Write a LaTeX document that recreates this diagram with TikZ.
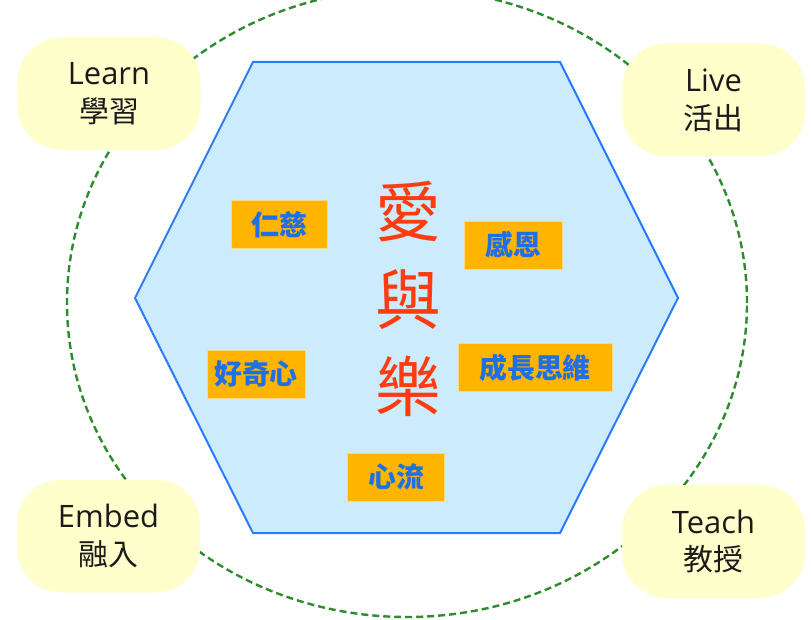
\documentclass[tikz,border=0pt]{standalone}
\usepackage{fontspec}
\setmainfont{Open Sans}
\newfontfamily\cjk{Noto Sans CJK TC}
\definecolor{hexfill}{HTML}{CCEBFC}
\definecolor{hexline}{HTML}{2B7BFF}
\definecolor{ringgreen}{HTML}{2E8B2E}
\definecolor{padfill}{HTML}{FFFFCC}
\definecolor{tagfill}{HTML}{FFB400}
\definecolor{tagtext}{HTML}{1F6FE6}
\definecolor{bigred}{HTML}{FF3B10}
\definecolor{labtext}{HTML}{1A1A1A}
\begin{document}
\begin{tikzpicture}[x=1bp,y=-1bp,
  pad/.style={fill=padfill,draw=none,rounded corners=45bp,minimum width=183bp,minimum height=113bp,align=center,text=labtext,inner sep=0pt,font=\fontsize{31}{38}\selectfont},
  tag/.style={fill=tagfill,draw=tagfill!50!white,line width=0.8bp,minimum height=48bp,inner sep=0pt,text=tagtext,font=\cjk\bfseries\fontsize{28}{30}\selectfont},
  ring/.style={draw=ringgreen,line width=2.4bp,dash pattern=on 7bp off 4bp},
  hexa/.style={fill=hexfill,draw=hexline,line width=2bp,line join=miter}
]
\useasboundingbox (0,0) rectangle (811,620);
% dashed ring
\draw[ring] (407,303) ellipse [x radius=340bp, y radius=314bp];
% hexagon
\draw[hexa] (253,62) -- (560,62) -- (678,298) -- (560,533) -- (253,533) -- (135,298) -- cycle;
% corner pads
\newcommand{\padtext}[2]{#1\\{\cjk\fontsize{30}{38}\selectfont #2}}
\node[pad] (learn) at (109,93.5) {\padtext{Learn}{學習}};
\node[pad] (live) at (713.5,100) {\padtext{Live}{活出}};
\node[pad] (embed) at (108.5,536) {\padtext{Embed}{融入}};
\node[pad] (teach) at (713.5,541.5) {\padtext{Teach}{教授}};
% centre title
\node[text=bigred,font=\cjk\fontsize{66}{88}\selectfont,align=center,inner sep=0pt] (title) at (408,299) {愛\\與\\樂};
% tags
\node[tag,minimum width=96bp] (renci) at (279,224.5) {仁慈};
\node[tag,minimum width=98bp] (ganen) at (513,245) {感恩};
\node[tag,minimum width=98bp] (haoqi) at (256,374) {好奇心};
\node[tag,minimum width=154bp] (chengzhang) at (535,367.5) {成長思維};
\node[tag,minimum width=97bp] (xinliu) at (396,477) {心流};
\end{tikzpicture}
\end{document}
